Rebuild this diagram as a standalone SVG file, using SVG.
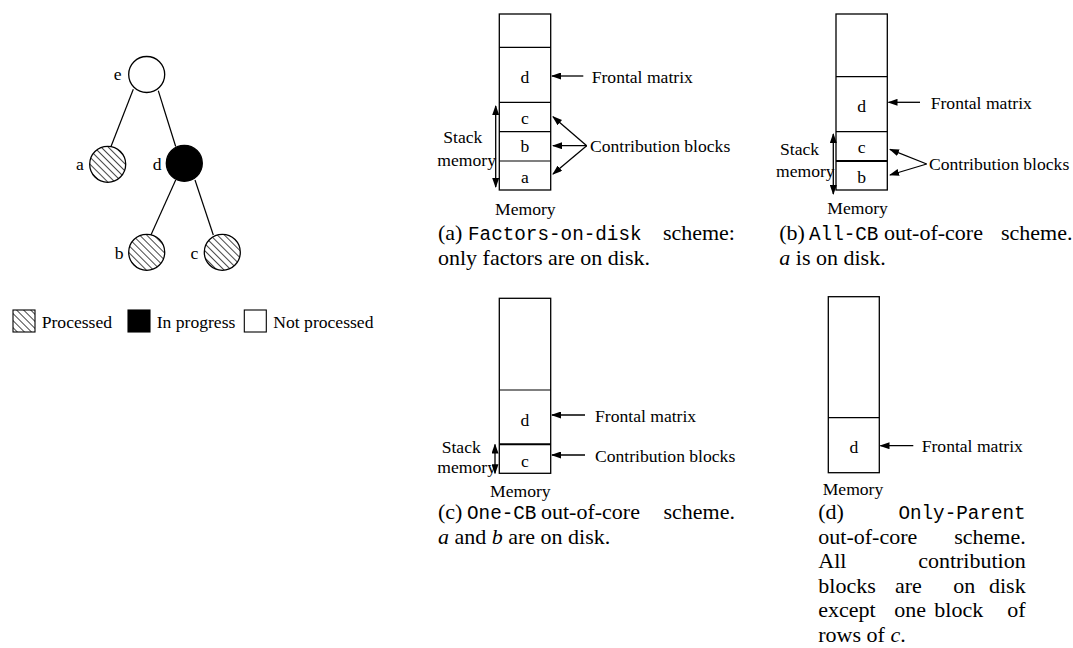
<svg xmlns="http://www.w3.org/2000/svg" width="1073" height="648" viewBox="0 0 1073 648">
<style>
.lbl{font-family:"Liberation Serif","Times New Roman",serif;font-size:17.6px;fill:#000}
.mid{text-anchor:middle}
.cap{font-family:"Liberation Serif","Times New Roman",serif;font-size:22px;fill:#000}
.tt{font-family:"Liberation Mono","Courier New",monospace;font-size:19.3px;fill:#000}
.end{text-anchor:end}
.it{font-style:italic}
.box{fill:#fff;stroke:#000;stroke-width:1.3}
.sep{stroke:#000;stroke-width:1.2;fill:none}
.sep2{stroke:#000;stroke-width:2;fill:none}
.edge{stroke:#000;stroke-width:1.2;fill:none}
.arr{stroke:#000;stroke-width:1.3;fill:none;marker-end:url(#ah)}
.darr{stroke:#000;stroke-width:1.3;fill:none;marker-end:url(#ah);marker-start:url(#ah)}
.node{stroke:#000;stroke-width:1.3}
</style>
<defs>
<pattern id="hatch" patternUnits="userSpaceOnUse" width="5" height="5" patternTransform="rotate(-45)">
<rect width="5" height="5" fill="#fff"/>
<line x1="2.5" y1="-1" x2="2.5" y2="6" stroke="#333" stroke-width="0.9"/>
</pattern>
<marker id="ah" markerUnits="userSpaceOnUse" markerWidth="10" markerHeight="7" refX="9" refY="3.5" orient="auto-start-reverse">
<path d="M0,0 L10,3.5 L0,7 Z" fill="#000"/>
</marker>
</defs>

<!-- Tree -->
<g id="tree-edges">
<line class="edge" x1="133.3" y1="89.3" x2="111" y2="146.5"/>
<line class="edge" x1="158.3" y1="90.7" x2="175.7" y2="146.5"/>
<line class="edge" x1="175.7" y1="180" x2="150.7" y2="235.5"/>
<line class="edge" x1="195" y1="180" x2="213.3" y2="235"/>
</g>
<g id="node-e">
<circle class="node" cx="146.7" cy="74.5" r="18" fill="#fff"/>
<text class="lbl mid" x="117.7" y="80">e</text>
</g>
<g id="node-a">
<circle class="node" cx="107.7" cy="164.3" r="18" fill="url(#hatch)"/>
<text class="lbl mid" x="80" y="169.5">a</text>
</g>
<g id="node-d">
<circle class="node" cx="184.3" cy="163.3" r="18" fill="#000"/>
<text class="lbl mid" x="157.2" y="169.5">d</text>
</g>
<g id="node-b">
<circle class="node" cx="146.7" cy="252.3" r="18" fill="url(#hatch)"/>
<text class="lbl mid" x="119.2" y="258.5">b</text>
</g>
<g id="node-c">
<circle class="node" cx="222.3" cy="252.3" r="18" fill="url(#hatch)"/>
<text class="lbl mid" x="194.5" y="258.5">c</text>
</g>

<!-- Legend -->
<g id="legend">
<rect x="13" y="310" width="22" height="22" fill="url(#hatch)" stroke="#000" stroke-width="1.1"/>
<text class="lbl" x="41.7" y="327.5">Processed</text>
<rect x="128" y="310" width="22" height="22" fill="#000" stroke="#000" stroke-width="1.1"/>
<text class="lbl" x="156.7" y="327.5">In progress</text>
<rect x="244.3" y="310" width="22" height="22" fill="#fff" stroke="#000" stroke-width="1.1"/>
<text class="lbl" x="273.3" y="327.5">Not processed</text>
</g>

<!-- Panel (a) -->
<g id="panel-a">
<rect class="box" x="499.3" y="14" width="51.4" height="176"/>
<line class="sep" x1="499.3" y1="47.3" x2="550.7" y2="47.3"/>
<line class="sep" x1="499.3" y1="102.3" x2="550.7" y2="102.3"/>
<line class="sep" x1="499.3" y1="131.7" x2="550.7" y2="131.7"/>
<line class="sep" x1="499.3" y1="161" x2="550.7" y2="161"/>
<text class="lbl mid" x="525" y="82.7">d</text>
<text class="lbl mid" x="525" y="124">c</text>
<text class="lbl mid" x="525" y="152.3">b</text>
<text class="lbl mid" x="525" y="182.5">a</text>
<text class="lbl" x="591.7" y="82.5">Frontal matrix</text>
<text class="lbl" x="590" y="151.5">Contribution blocks</text>
<text class="lbl" x="443.3" y="142.5">Stack</text>
<text class="lbl" x="437.3" y="165.7">memory</text>
<text class="lbl" x="495" y="215">Memory</text>
<text class="cap" x="438" y="240">(a)</text>
<text class="tt" x="468" y="240">Factors-on-disk</text>
<text class="cap end" x="735" y="240">scheme:</text>
<text class="cap" x="438" y="264.5">only factors are on disk.</text>
</g>

<!-- Panel (b) -->
<g id="panel-b">
<rect class="box" x="836" y="14" width="51.3" height="176"/>
<line class="sep" x1="836" y1="76.7" x2="887.3" y2="76.7"/>
<line class="sep" x1="836" y1="131.7" x2="887.3" y2="131.7"/>
<line class="sep2" x1="836" y1="161" x2="887.3" y2="161"/>
<text class="lbl mid" x="861.7" y="111.7">d</text>
<text class="lbl mid" x="861.7" y="153.3">c</text>
<text class="lbl mid" x="861.7" y="182.7">b</text>
<text class="lbl" x="930.7" y="108.5">Frontal matrix</text>
<text class="lbl" x="929" y="170">Contribution blocks</text>
<text class="lbl" x="780" y="155">Stack</text>
<text class="lbl" x="776" y="177">memory</text>
<text class="lbl" x="827.3" y="214">Memory</text>
<text class="cap" x="779.3" y="240">(b)</text>
<text class="tt" x="809" y="240">All-CB</text>
<text class="cap" x="884" y="240">out-of-core</text>
<text class="cap end" x="1072.5" y="240">scheme.</text>
<text class="cap" x="779.3" y="264.5"><tspan class="it">a</tspan> is on disk.</text>
</g>

<!-- Panel (c) -->
<g id="panel-c">
<rect class="box" x="499.3" y="298.3" width="51.4" height="175"/>
<line class="sep" x1="499.3" y1="390" x2="550.7" y2="390"/>
<line class="sep2" x1="499.3" y1="444.3" x2="550.7" y2="444.3"/>
<text class="lbl mid" x="525" y="426">d</text>
<text class="lbl mid" x="525" y="466.7">c</text>
<text class="lbl" x="595" y="421.5">Frontal matrix</text>
<text class="lbl" x="595" y="461.5">Contribution blocks</text>
<text class="lbl" x="441.7" y="453.3">Stack</text>
<text class="lbl" x="437.3" y="473">memory</text>
<text class="lbl" x="490" y="497">Memory</text>
<text class="cap" x="438" y="519">(c)</text>
<text class="tt" x="467" y="519">One-CB</text>
<text class="cap" x="541" y="519">out-of-core</text>
<text class="cap end" x="735" y="519">scheme.</text>
<text class="cap" x="438" y="543.5"><tspan class="it">a</tspan> and <tspan class="it">b</tspan> are on disk.</text>
</g>

<!-- Panel (d) -->
<g id="panel-d">
<rect class="box" x="828.3" y="296.7" width="51" height="176"/>
<line class="sep" x1="828.3" y1="417.7" x2="879.3" y2="417.7"/>
<text class="lbl mid" x="853.8" y="453.3">d</text>
<text class="lbl" x="921.7" y="451.7">Frontal matrix</text>
<text class="lbl" x="822.7" y="495">Memory</text>
<text class="cap" x="818.3" y="519">(d)</text>
<text class="tt end" x="1025.7" y="519">Only-Parent</text>
<text class="cap" x="818.3" y="543.5">out-of-core</text>
<text class="cap end" x="1025.7" y="543.5">scheme.</text>
<text class="cap" x="818.3" y="568">All</text>
<text class="cap end" x="1025.7" y="568">contribution</text>
<text class="cap" x="818.3" y="592.5">blocks</text>
<text class="cap" x="895" y="592.5">are</text>
<text class="cap" x="953.3" y="592.5">on</text>
<text class="cap end" x="1025.7" y="592.5">disk</text>
<text class="cap" x="818.3" y="617">except</text>
<text class="cap" x="894.3" y="617">one</text>
<text class="cap" x="934.3" y="617">block</text>
<text class="cap end" x="1025.7" y="617">of</text>
<text class="cap" x="818.3" y="641.5">rows of <tspan class="it">c</tspan>.</text>
</g>

<!-- Connectors (arrows) -->
<g id="connectors">
<line class="arr" x1="583.3" y1="76" x2="552" y2="76"/>
<line class="arr" x1="586.7" y1="145.7" x2="553" y2="116.7"/>
<line class="arr" x1="586.7" y1="145.7" x2="553" y2="145.7"/>
<line class="arr" x1="586.7" y1="145.7" x2="553" y2="174"/>
<line class="darr" x1="495.7" y1="106" x2="495.7" y2="187"/>
<line class="arr" x1="920" y1="102.3" x2="888.5" y2="102.3"/>
<line class="arr" x1="926.7" y1="164" x2="890" y2="149.3"/>
<line class="arr" x1="926.7" y1="164" x2="890" y2="175"/>
<line class="darr" x1="833.3" y1="134" x2="833.3" y2="194"/>
<line class="arr" x1="585" y1="415" x2="552" y2="415"/>
<line class="arr" x1="585" y1="455" x2="552" y2="455"/>
<line class="darr" x1="495" y1="444.5" x2="495" y2="473.3"/>
<line class="arr" x1="913.3" y1="445.7" x2="880.5" y2="445.7"/>
</g>
</svg>
